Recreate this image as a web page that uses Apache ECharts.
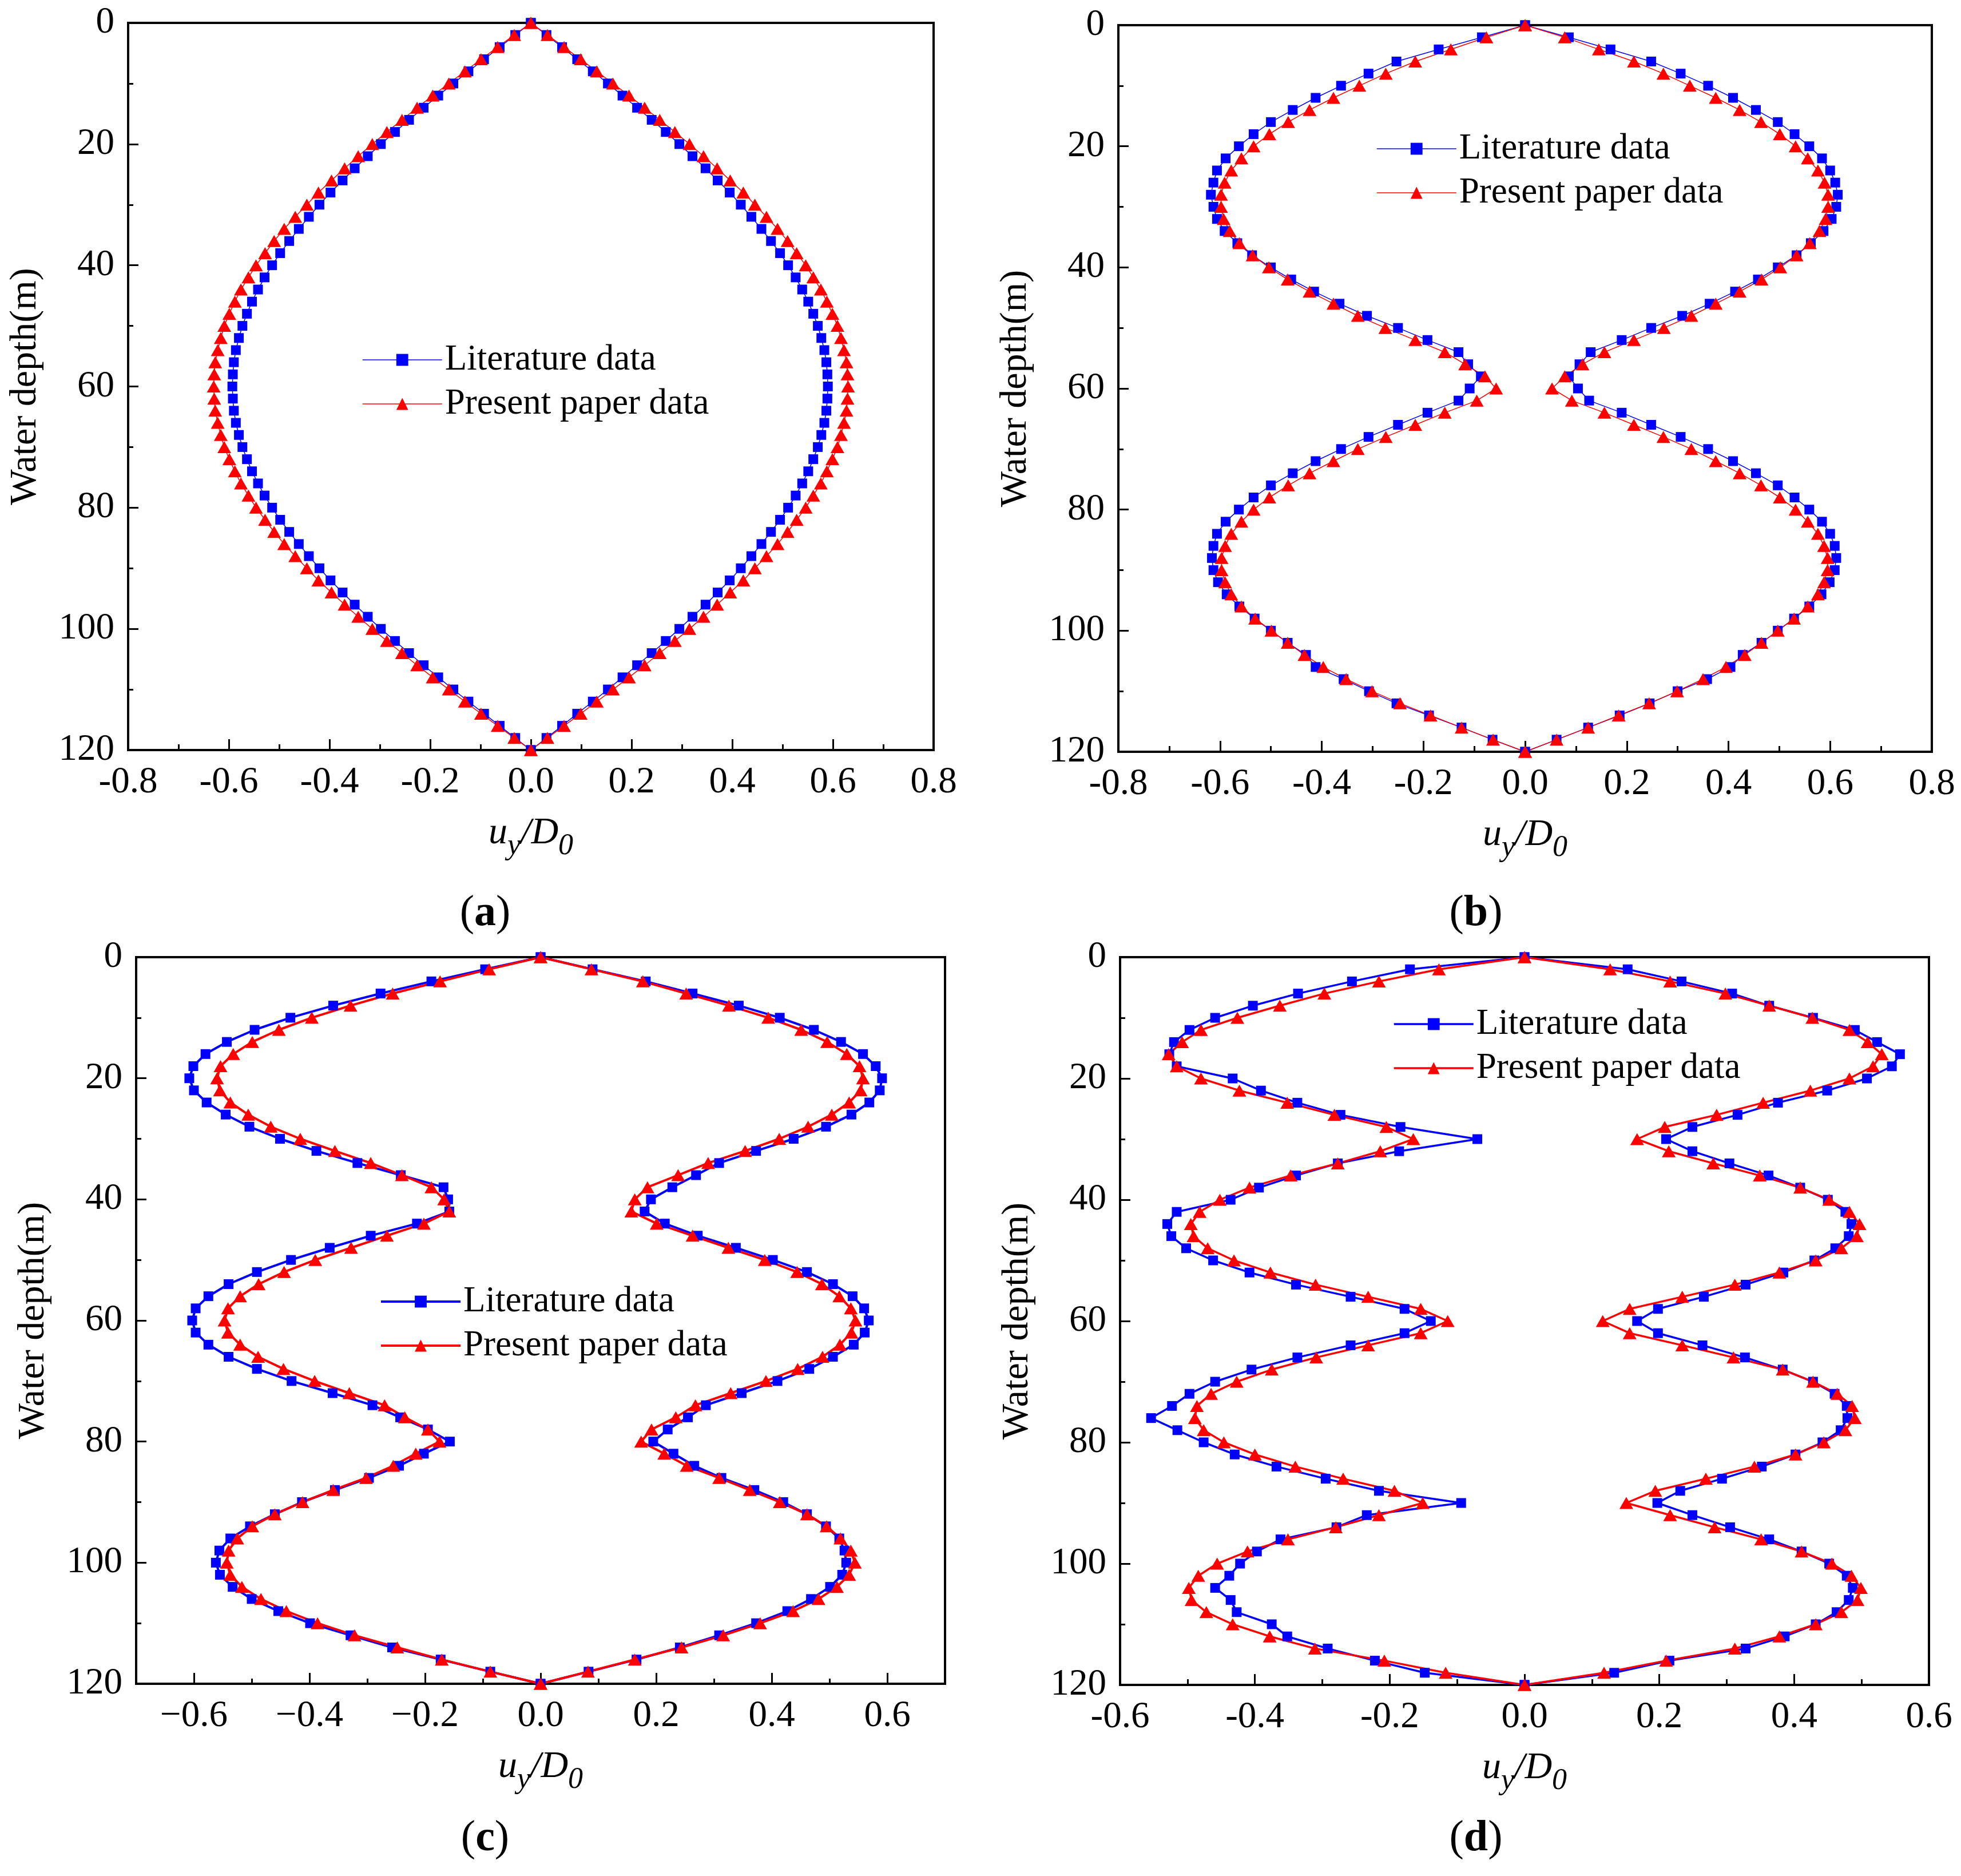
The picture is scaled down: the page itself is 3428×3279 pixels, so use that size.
<!DOCTYPE html>
<html>
<head>
<meta charset="utf-8">
<title>Water depth profiles</title>
<script src="https://cdn.jsdelivr.net/npm/echarts@6/dist/echarts.min.js"></script>
<style>
  html, body { margin: 0; padding: 0; background: #fff; }
  #chart { width: 3428px; height: 3279px; }
</style>
</head>
<body>
<div id="chart"></div>
<script>
// Water depth (m), one point every 2 m.
const depths = [0, 2, 4, 6, 8, 10, 12, 14, 16, 18, 20, 22, 24, 26, 28, 30, 32, 34, 36, 38, 40,
  42, 44, 46, 48, 50, 52, 54, 56, 58, 60, 62, 64, 66, 68, 70, 72, 74, 76, 78, 80,
  82, 84, 86, 88, 90, 92, 94, 96, 98, 100, 102, 104, 106, 108, 110, 112, 114, 116, 118, 120];

// (a) u_y/D0, right (+) and left (-) envelope
const aLitRight = [0, 0.031, 0.062, 0.092, 0.123, 0.153, 0.182, 0.211, 0.240, 0.268, 0.295, 0.321, 0.347, 0.371, 0.395, 0.417, 0.438, 0.458, 0.477, 0.495, 0.511,
  0.526, 0.539, 0.551, 0.561, 0.570, 0.577, 0.583, 0.587, 0.589, 0.590, 0.589, 0.587, 0.583, 0.577, 0.570, 0.561, 0.551, 0.539, 0.526, 0.511,
  0.495, 0.477, 0.458, 0.438, 0.417, 0.395, 0.371, 0.347, 0.321, 0.295, 0.268, 0.240, 0.211, 0.182, 0.153, 0.123, 0.092, 0.062, 0.031, 0];
const aLitLeft = [0, -0.031, -0.062, -0.093, -0.124, -0.154, -0.184, -0.213, -0.242, -0.270, -0.298, -0.324, -0.350, -0.374, -0.398, -0.420, -0.441, -0.461, -0.480, -0.498, -0.514,
  -0.529, -0.542, -0.554, -0.564, -0.573, -0.580, -0.586, -0.590, -0.592, -0.593, -0.592, -0.590, -0.586, -0.580, -0.573, -0.564, -0.554, -0.542, -0.529, -0.514,
  -0.498, -0.480, -0.461, -0.441, -0.420, -0.398, -0.374, -0.350, -0.324, -0.298, -0.270, -0.242, -0.213, -0.184, -0.154, -0.124, -0.093, -0.062, -0.031, 0];
const aPreRight = [0, 0.033, 0.066, 0.099, 0.131, 0.163, 0.195, 0.226, 0.256, 0.286, 0.315, 0.343, 0.370, 0.396, 0.422, 0.445, 0.468, 0.490, 0.510, 0.528, 0.546,
  0.561, 0.576, 0.588, 0.599, 0.609, 0.616, 0.622, 0.627, 0.629, 0.630, 0.629, 0.627, 0.622, 0.616, 0.609, 0.599, 0.588, 0.576, 0.561, 0.546,
  0.528, 0.510, 0.490, 0.468, 0.445, 0.422, 0.396, 0.370, 0.343, 0.315, 0.286, 0.256, 0.226, 0.195, 0.163, 0.131, 0.099, 0.066, 0.033, 0];
const aPreLeft = [0, -0.033, -0.066, -0.099, -0.131, -0.163, -0.195, -0.226, -0.256, -0.286, -0.315, -0.343, -0.370, -0.396, -0.422, -0.445, -0.468, -0.490, -0.510, -0.528, -0.546,
  -0.561, -0.576, -0.588, -0.599, -0.609, -0.616, -0.622, -0.627, -0.629, -0.630, -0.629, -0.627, -0.622, -0.616, -0.609, -0.599, -0.588, -0.576, -0.561, -0.546,
  -0.528, -0.510, -0.490, -0.468, -0.445, -0.422, -0.396, -0.370, -0.343, -0.315, -0.286, -0.256, -0.226, -0.195, -0.163, -0.131, -0.099, -0.066, -0.033, 0];

// (b)
const bLitRight = [0, 0.086, 0.168, 0.248, 0.306, 0.360, 0.409, 0.454, 0.497, 0.530, 0.559, 0.584, 0.600, 0.610, 0.615, 0.612, 0.603, 0.587, 0.562, 0.534, 0.497,
  0.458, 0.413, 0.363, 0.309, 0.248, 0.190, 0.129, 0.107, 0.086, 0.104, 0.126, 0.190, 0.248, 0.306, 0.360, 0.409, 0.454, 0.497, 0.530, 0.559,
  0.584, 0.600, 0.609, 0.612, 0.609, 0.599, 0.583, 0.559, 0.529, 0.497, 0.465, 0.428, 0.404, 0.358, 0.300, 0.245, 0.186, 0.124, 0.062, 0];
const bLitLeft = [0, -0.085, -0.170, -0.253, -0.308, -0.362, -0.412, -0.457, -0.500, -0.534, -0.563, -0.589, -0.606, -0.613, -0.618, -0.613, -0.606, -0.591, -0.566, -0.537, -0.500,
  -0.460, -0.415, -0.365, -0.311, -0.250, -0.192, -0.131, -0.112, -0.087, -0.109, -0.131, -0.192, -0.250, -0.308, -0.362, -0.412, -0.457, -0.500, -0.534, -0.563,
  -0.589, -0.606, -0.613, -0.616, -0.613, -0.604, -0.587, -0.562, -0.532, -0.500, -0.467, -0.431, -0.412, -0.357, -0.307, -0.253, -0.189, -0.125, -0.064, 0];
const bPreRight = [0, 0.078, 0.145, 0.214, 0.272, 0.324, 0.375, 0.422, 0.464, 0.501, 0.532, 0.556, 0.576, 0.589, 0.596, 0.596, 0.591, 0.579, 0.560, 0.534, 0.502,
  0.465, 0.422, 0.375, 0.327, 0.273, 0.214, 0.156, 0.113, 0.078, 0.053, 0.092, 0.156, 0.214, 0.272, 0.327, 0.375, 0.422, 0.464, 0.501, 0.532,
  0.556, 0.576, 0.588, 0.595, 0.595, 0.588, 0.576, 0.556, 0.529, 0.497, 0.465, 0.432, 0.395, 0.350, 0.299, 0.244, 0.184, 0.124, 0.062, 0];
const bPreLeft = [0, -0.076, -0.146, -0.216, -0.274, -0.326, -0.377, -0.424, -0.466, -0.503, -0.534, -0.558, -0.578, -0.591, -0.598, -0.598, -0.593, -0.581, -0.562, -0.536, -0.504,
  -0.467, -0.424, -0.377, -0.329, -0.275, -0.216, -0.158, -0.118, -0.079, -0.057, -0.095, -0.158, -0.216, -0.274, -0.329, -0.377, -0.424, -0.466, -0.503, -0.534,
  -0.558, -0.578, -0.590, -0.597, -0.597, -0.590, -0.578, -0.558, -0.531, -0.499, -0.467, -0.434, -0.397, -0.352, -0.301, -0.246, -0.186, -0.125, -0.063, 0];

// (c)
const cLitRight = [0, 0.090, 0.182, 0.263, 0.343, 0.414, 0.473, 0.520, 0.558, 0.580, 0.591, 0.587, 0.569, 0.538, 0.494, 0.438, 0.373, 0.309, 0.269, 0.228, 0.191,
  0.180, 0.215, 0.272, 0.338, 0.402, 0.461, 0.506, 0.540, 0.560, 0.568, 0.561, 0.542, 0.506, 0.465, 0.410, 0.348, 0.286, 0.255, 0.220, 0.195,
  0.230, 0.266, 0.313, 0.370, 0.420, 0.461, 0.494, 0.517, 0.526, 0.529, 0.522, 0.501, 0.468, 0.427, 0.373, 0.309, 0.241, 0.166, 0.083, 0];
const cLitLeft = [0, -0.096, -0.189, -0.277, -0.359, -0.433, -0.495, -0.543, -0.580, -0.601, -0.608, -0.600, -0.578, -0.545, -0.504, -0.451, -0.388, -0.317, -0.242, -0.168, -0.160,
  -0.158, -0.214, -0.294, -0.365, -0.432, -0.491, -0.540, -0.575, -0.597, -0.603, -0.597, -0.575, -0.540, -0.491, -0.431, -0.360, -0.291, -0.243, -0.195, -0.157,
  -0.202, -0.245, -0.297, -0.356, -0.413, -0.460, -0.503, -0.537, -0.556, -0.562, -0.555, -0.533, -0.500, -0.454, -0.399, -0.329, -0.257, -0.173, -0.087, 0];
const cPreRight = [0, 0.088, 0.177, 0.252, 0.326, 0.394, 0.451, 0.496, 0.530, 0.552, 0.558, 0.554, 0.534, 0.504, 0.463, 0.413, 0.354, 0.290, 0.238, 0.185, 0.163,
  0.157, 0.201, 0.263, 0.325, 0.388, 0.444, 0.487, 0.517, 0.537, 0.545, 0.538, 0.518, 0.488, 0.445, 0.390, 0.329, 0.268, 0.234, 0.192, 0.174,
  0.214, 0.253, 0.309, 0.362, 0.414, 0.461, 0.495, 0.519, 0.537, 0.544, 0.534, 0.513, 0.481, 0.437, 0.380, 0.316, 0.244, 0.163, 0.082, 0];
const cPreLeft = [0, -0.089, -0.174, -0.256, -0.329, -0.396, -0.453, -0.499, -0.532, -0.554, -0.560, -0.555, -0.537, -0.506, -0.467, -0.416, -0.356, -0.294, -0.240, -0.189, -0.167,
  -0.158, -0.202, -0.266, -0.328, -0.390, -0.444, -0.488, -0.520, -0.541, -0.547, -0.541, -0.520, -0.489, -0.445, -0.391, -0.331, -0.270, -0.235, -0.195, -0.175,
  -0.216, -0.255, -0.302, -0.359, -0.412, -0.460, -0.499, -0.525, -0.540, -0.543, -0.537, -0.517, -0.484, -0.440, -0.386, -0.322, -0.248, -0.171, -0.087, 0];

// (d)
const dLitRight = [0, 0.153, 0.233, 0.308, 0.363, 0.428, 0.490, 0.523, 0.557, 0.545, 0.508, 0.449, 0.376, 0.316, 0.249, 0.210, 0.249, 0.304, 0.362, 0.409, 0.450,
  0.476, 0.485, 0.481, 0.461, 0.430, 0.384, 0.328, 0.266, 0.198, 0.167, 0.198, 0.264, 0.327, 0.383, 0.428, 0.460, 0.478, 0.479, 0.469, 0.442,
  0.402, 0.352, 0.293, 0.231, 0.197, 0.249, 0.305, 0.363, 0.411, 0.452, 0.478, 0.487, 0.481, 0.463, 0.432, 0.386, 0.328, 0.215, 0.133, 0];
const dLitLeft = [0, -0.170, -0.256, -0.336, -0.403, -0.459, -0.497, -0.520, -0.527, -0.516, -0.433, -0.391, -0.337, -0.273, -0.184, -0.070, -0.186, -0.277, -0.339, -0.394, -0.436,
  -0.516, -0.530, -0.524, -0.502, -0.462, -0.408, -0.339, -0.258, -0.178, -0.139, -0.178, -0.258, -0.337, -0.405, -0.459, -0.497, -0.523, -0.554, -0.515, -0.476,
  -0.430, -0.368, -0.295, -0.216, -0.094, -0.234, -0.279, -0.362, -0.397, -0.422, -0.438, -0.459, -0.436, -0.427, -0.375, -0.352, -0.292, -0.222, -0.148, 0];
const dPreRight = [0, 0.127, 0.216, 0.298, 0.363, 0.427, 0.482, 0.509, 0.530, 0.517, 0.482, 0.424, 0.354, 0.285, 0.208, 0.167, 0.214, 0.280, 0.349, 0.409, 0.452,
  0.482, 0.497, 0.493, 0.470, 0.432, 0.378, 0.312, 0.234, 0.156, 0.116, 0.156, 0.234, 0.310, 0.383, 0.428, 0.464, 0.486, 0.490, 0.476, 0.444,
  0.402, 0.341, 0.269, 0.194, 0.151, 0.216, 0.282, 0.351, 0.411, 0.456, 0.485, 0.499, 0.494, 0.470, 0.432, 0.378, 0.312, 0.210, 0.118, 0];
const dPreLeft = [0, -0.127, -0.216, -0.297, -0.363, -0.426, -0.480, -0.508, -0.528, -0.516, -0.480, -0.423, -0.352, -0.282, -0.205, -0.165, -0.214, -0.277, -0.347, -0.408, -0.452,
  -0.482, -0.495, -0.491, -0.470, -0.431, -0.377, -0.310, -0.232, -0.154, -0.114, -0.154, -0.232, -0.309, -0.375, -0.427, -0.465, -0.486, -0.489, -0.476, -0.446,
  -0.400, -0.340, -0.269, -0.193, -0.151, -0.216, -0.280, -0.351, -0.411, -0.456, -0.484, -0.498, -0.494, -0.472, -0.433, -0.378, -0.311, -0.208, -0.117, 0];

// Tick labels
const depthTicks = [0, 20, 40, 60, 80, 100, 120];
const cTicks = [-0.6, -0.4, -0.2, 0, 0.2, 0.4, 0.6];

const FONT = "'Liberation Serif', 'Times New Roman', serif";
const LIT_NAME = 'Literature data';
const PRE_NAME = 'Present paper data';

// Right branch top -> bottom, then left branch bottom -> top, so every series is one closed loop.
function loop(right, left) {
  const pts = right.map(function (v, i) { return [v, depths[i]]; });
  for (let i = left.length - 1; i >= 0; i--) {
    pts.push([left[i], depths[i]]);
  }
  return pts;
}

const panels = [
  { tag: 'a', grid: { left: 224, top: 40, width: 1408, height: 1271 }, min: -0.8, max: 0.8, lw: 1.5,
    lit: loop(aLitRight, aLitLeft), pre: loop(aPreRight, aPreLeft), legend: { left: 633, top: 597 }, tagPos: [848, 1597] },
  { tag: 'b', grid: { left: 1955, top: 44, width: 1422, height: 1270 }, min: -0.8, max: 0.8, lw: 1.5,
    lit: loop(bLitRight, bLitLeft), pre: loop(bPreRight, bPreLeft), legend: { left: 2406, top: 228 }, tagPos: [2580, 1597] },
  { tag: 'c', grid: { left: 238, top: 1673, width: 1414, height: 1270 }, min: -0.7, max: 0.7, lw: 4,
    lit: loop(cLitRight, cLitLeft), pre: loop(cPreRight, cPreLeft), legend: { left: 664, top: 2243 }, tagPos: [848, 3214] },
  { tag: 'd', grid: { left: 1958, top: 1673, width: 1414, height: 1272 }, min: -0.6, max: 0.6, lw: 3.5,
    lit: loop(dLitRight, dLitLeft), pre: loop(dPreRight, dPreLeft), legend: { left: 2435, top: 1758 }, tagPos: [2580, 3214] }
];

const labelStyle = { color: '#000', fontFamily: FONT, fontSize: 65 };
const tickLine = { color: '#000', width: 3 };

const option = {
  animation: false,
  backgroundColor: '#fff',
  grid: [],
  xAxis: [],
  yAxis: [],
  legend: [],
  series: [],
  graphic: []
};

panels.forEach(function (p, k) {
  option.grid.push(Object.assign({
    show: true, borderColor: '#000', borderWidth: 4, containLabel: false
  }, p.grid));

  const isC = p.tag === 'c';
  const xAxis = {
    type: 'value', gridIndex: k, position: 'bottom', min: p.min, max: p.max,
    name: '{i|u}{s|y}{i|/D}{s|0}', nameLocation: 'middle', nameGap: 98,
    nameTextStyle: {
      color: '#000', fontFamily: FONT, fontSize: 66, fontStyle: 'italic',
      rich: {
        i: { color: '#000', fontFamily: FONT, fontSize: 66, fontStyle: 'italic' },
        s: { color: '#000', fontFamily: FONT, fontSize: 52, fontStyle: 'italic', padding: [44, 0, 0, 0] }
      }
    },
    axisLine: { show: true, onZero: false, lineStyle: { color: '#000', width: 4 } },
    axisTick: { show: true, inside: true, length: 19, lineStyle: tickLine },
    axisLabel: Object.assign({ margin: 24 }, labelStyle, {
      formatter: function (v) {
        const s = Number(v).toFixed(1);
        return isC ? s.replace('-', '\u2212') : s;
      }
    }),
    splitLine: { show: false }
  };
  if (isC) {
    // (c) runs from -0.7 to 0.7 with labels on the even tenths.
    xAxis.axisLabel.customValues = cTicks;
    xAxis.axisTick.customValues = cTicks;
  } else {
    xAxis.interval = 0.2;
    xAxis.minorTick = { show: true, splitNumber: 2, length: 10, lineStyle: tickLine };
  }
  option.xAxis.push(xAxis);

  option.yAxis.push({
    type: 'value', gridIndex: k, position: 'left', inverse: true, min: 0, max: 120, interval: 20,
    name: 'Water depth(m)', nameLocation: 'middle', nameGap: 146,
    nameTextStyle: { color: '#000', fontFamily: FONT, fontSize: 66 },
    axisLine: { show: true, onZero: false, lineStyle: { color: '#000', width: 4 } },
    axisTick: { show: true, inside: true, length: 18, lineStyle: tickLine },
    minorTick: { show: true, splitNumber: 2, length: 9, lineStyle: tickLine },
    axisLabel: Object.assign({ margin: 24, customValues: depthTicks }, labelStyle),
    splitLine: { show: false }
  });

  option.legend.push({
    orient: 'vertical', left: p.legend.left, top: p.legend.top, padding: 0,
    itemWidth: 139, itemHeight: 26, itemGap: 13, selectedMode: false,
    data: [LIT_NAME, PRE_NAME],
    lineStyle: { width: p.lw },
    textStyle: { color: '#000', fontFamily: FONT, fontSize: 63, lineHeight: 64 }
  });

  option.series.push({
    name: LIT_NAME, type: 'line', xAxisIndex: k, yAxisIndex: k, data: p.lit,
    symbol: 'rect', symbolSize: 17, showAllSymbol: true,
    lineStyle: { color: '#0000ff', width: p.lw },
    itemStyle: { color: '#0000ff' }
  });
  option.series.push({
    name: PRE_NAME, type: 'line', xAxisIndex: k, yAxisIndex: k, data: p.pre,
    symbol: 'triangle', symbolSize: [24, 21], showAllSymbol: true,
    lineStyle: { color: '#ff0000', width: p.lw },
    itemStyle: { color: '#ff0000' }
  });

  option.graphic.push({
    type: 'text', x: p.tagPos[0], y: p.tagPos[1],
    style: {
      text: '({b|' + p.tag + '})', fill: '#000', fontFamily: FONT, fontSize: 76,
      align: 'center', verticalAlign: 'middle',
      rich: { b: { fontFamily: FONT, fontSize: 76, fontWeight: 'bold', fill: '#000' } }
    }
  });
});

// Minor ticks for (c) on the odd tenths.
option.xAxis.push({
  type: 'value', gridIndex: 2, position: 'bottom', min: -0.7, max: 0.7, interval: 0.1,
  axisLine: { show: false, onZero: false },
  axisTick: { show: true, inside: true, length: 9, lineStyle: tickLine },
  axisLabel: { show: false },
  splitLine: { show: false }
});

const chart = echarts.init(document.getElementById('chart'), null, { renderer: 'canvas' });
chart.setOption(option);
</script>
</body>
</html>
